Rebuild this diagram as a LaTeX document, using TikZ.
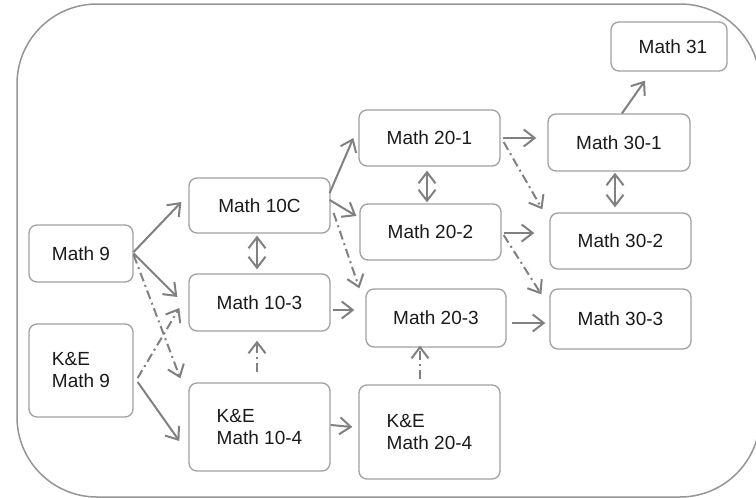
\documentclass[tikz,border=0pt]{standalone}
\usepackage{fontspec}
\setmainfont{Liberation Sans}
\usetikzlibrary{arrows.meta}
\definecolor{arrgray}{HTML}{808080}
\definecolor{boxgray}{HTML}{A0A0A0}
\definecolor{framegray}{HTML}{959595}
\definecolor{txt}{HTML}{1A1A1A}
\tikzset{
  box/.style={draw=boxgray, line width=1.3pt, rounded corners=8pt, inner sep=0pt,
    text=txt, font=\fontsize{19}{22}\selectfont},
  lbox/.style={box, align=left},
  arr/.style={draw=arrgray, line width=2pt, -{Straight Barb[length=11pt,width=17pt]}},
  darr/.style={draw=arrgray, line width=2pt, {Straight Barb[length=11pt,width=17pt]}-{Straight Barb[length=11pt,width=17pt]}},
  dd/.style={dash pattern=on 9pt off 4pt on 2pt off 4pt},
}
\begin{document}
\begin{tikzpicture}[x=1pt,y=-1pt]
\useasboundingbox (0,0) rectangle (756,498);
\draw[framegray, line width=1.5pt, rounded corners=80pt] (17,4) rectangle (760,497);

\node[box, minimum width=104pt, minimum height=57pt] (m9) at (81,253.5) {Math 9};
\node[lbox, minimum width=104pt, minimum height=93pt] (ke9) at (81,370.5) {K\&E\\Math 9};
\node[box, minimum width=141pt, minimum height=55pt] (m10c) at (259.5,205.5) {Math 10C};
\node[box, minimum width=141pt, minimum height=57pt] (m103) at (259.5,302.5) {Math 10-3};
\node[lbox, minimum width=141pt, minimum height=88pt] (ke104) at (259.5,427) {K\&E\\Math 10-4};
\node[box, minimum width=141pt, minimum height=56pt] (m201) at (429.5,138) {Math 20-1};
\node[box, minimum width=141pt, minimum height=56pt] (m202) at (430.5,232) {Math 20-2};
\node[box, minimum width=140pt, minimum height=58pt] (m203) at (436,318) {Math 20-3};
\node[lbox, minimum width=141pt, minimum height=94pt] (ke204) at (429.5,432) {K\&E\\Math 20-4};
\node[box, minimum width=142pt, minimum height=57pt] (m301) at (619,142.5) {Math 30-1};
\node[box, minimum width=141pt, minimum height=56pt] (m302) at (620.5,241) {Math 30-2};
\node[box, minimum width=141pt, minimum height=60pt] (m303) at (620.5,319) {Math 30-3};
\node[box, minimum width=116pt, minimum height=49pt] (m31) at (669,46.5) {\hspace*{8pt}Math 31};

% from Math 9
\draw[arr] ([shift={(0,-1.5)}]m9.east) -- ([shift={(-7,-3.5)}]m10c.west);
\draw[arr] (m9.east) -- ([shift={(-11,-5.5)}]m103.west);
\draw[arr,dd] ([shift={(0,1.5)}]m9.east) -- ([shift={(-8,-4)}]ke104.north west);
% from K&E Math 9
\draw[arr,dd] ([shift={(4,7.5)}]ke9.east) -- ([shift={(-9,5.5)}]m103.west);
\draw[arr] ([shift={(4,11.5)}]ke9.east) -- ([shift={(-9,14)}]ke104.west);
% column 10
\draw[darr] ([shift={(-2.5,2)}]m10c.south) -- ([shift={(-2.5,-4)}]m103.north);
\draw[arr,dd] ([shift={(-2.5,-10)}]ke104.north) -- ([shift={(-2.5,9)}]m103.south);
\draw[arr] ([shift={(-1,-12.5)}]m10c.east) -- ([shift={(-5,0)}]m201.west);
\draw[arr] ([shift={(-1,-5.5)}]m10c.east) -- ([shift={(-3,-16)}]m202.west);
\draw[arr,dd] ([shift={(3,7.5)}]m10c.east) -- ([shift={(-6,0)}]m203.north west);
\draw[arr] ([shift={(2,7.5)}]m103.east) -- ([shift={(-11,-8)}]m203.west);
\draw[arr] ([shift={(0,-2)}]ke104.east) -- ([shift={(-6,-5)}]ke204.west);
% column 20
\draw[darr] ([shift={(-2.5,4)}]m201.south) -- ([shift={(-3.5,-1)}]m202.north);
\draw[arr,dd] ([shift={(-9.5,-5)}]ke204.north) -- ([shift={(-16,-2)}]m203.south);
\draw[arr] ([shift={(2,0)}]m201.east) -- ([shift={(-11,-4.5)}]m301.west);
\draw[arr,dd] ([shift={(3,4)}]m201.east) -- ([shift={(-7,-3)}]m302.north west);
\draw[arr] ([shift={(2,1)}]m202.east) -- ([shift={(-15,-8)}]m302.west);
\draw[arr,dd] ([shift={(2,3)}]m202.east) -- ([shift={(-8,6)}]m303.north west);
\draw[arr] ([shift={(5,5)}]m203.east) -- ([shift={(-4,4)}]m303.west);
% column 30
\draw[darr] ([shift={(-4,1)}]m301.south) -- ([shift={(-5.5,-5)}]m302.north);
\draw[arr] ([shift={(3,0)}]m301.north) -- ([shift={(-24,9)}]m31.south);
\end{tikzpicture}
\end{document}
